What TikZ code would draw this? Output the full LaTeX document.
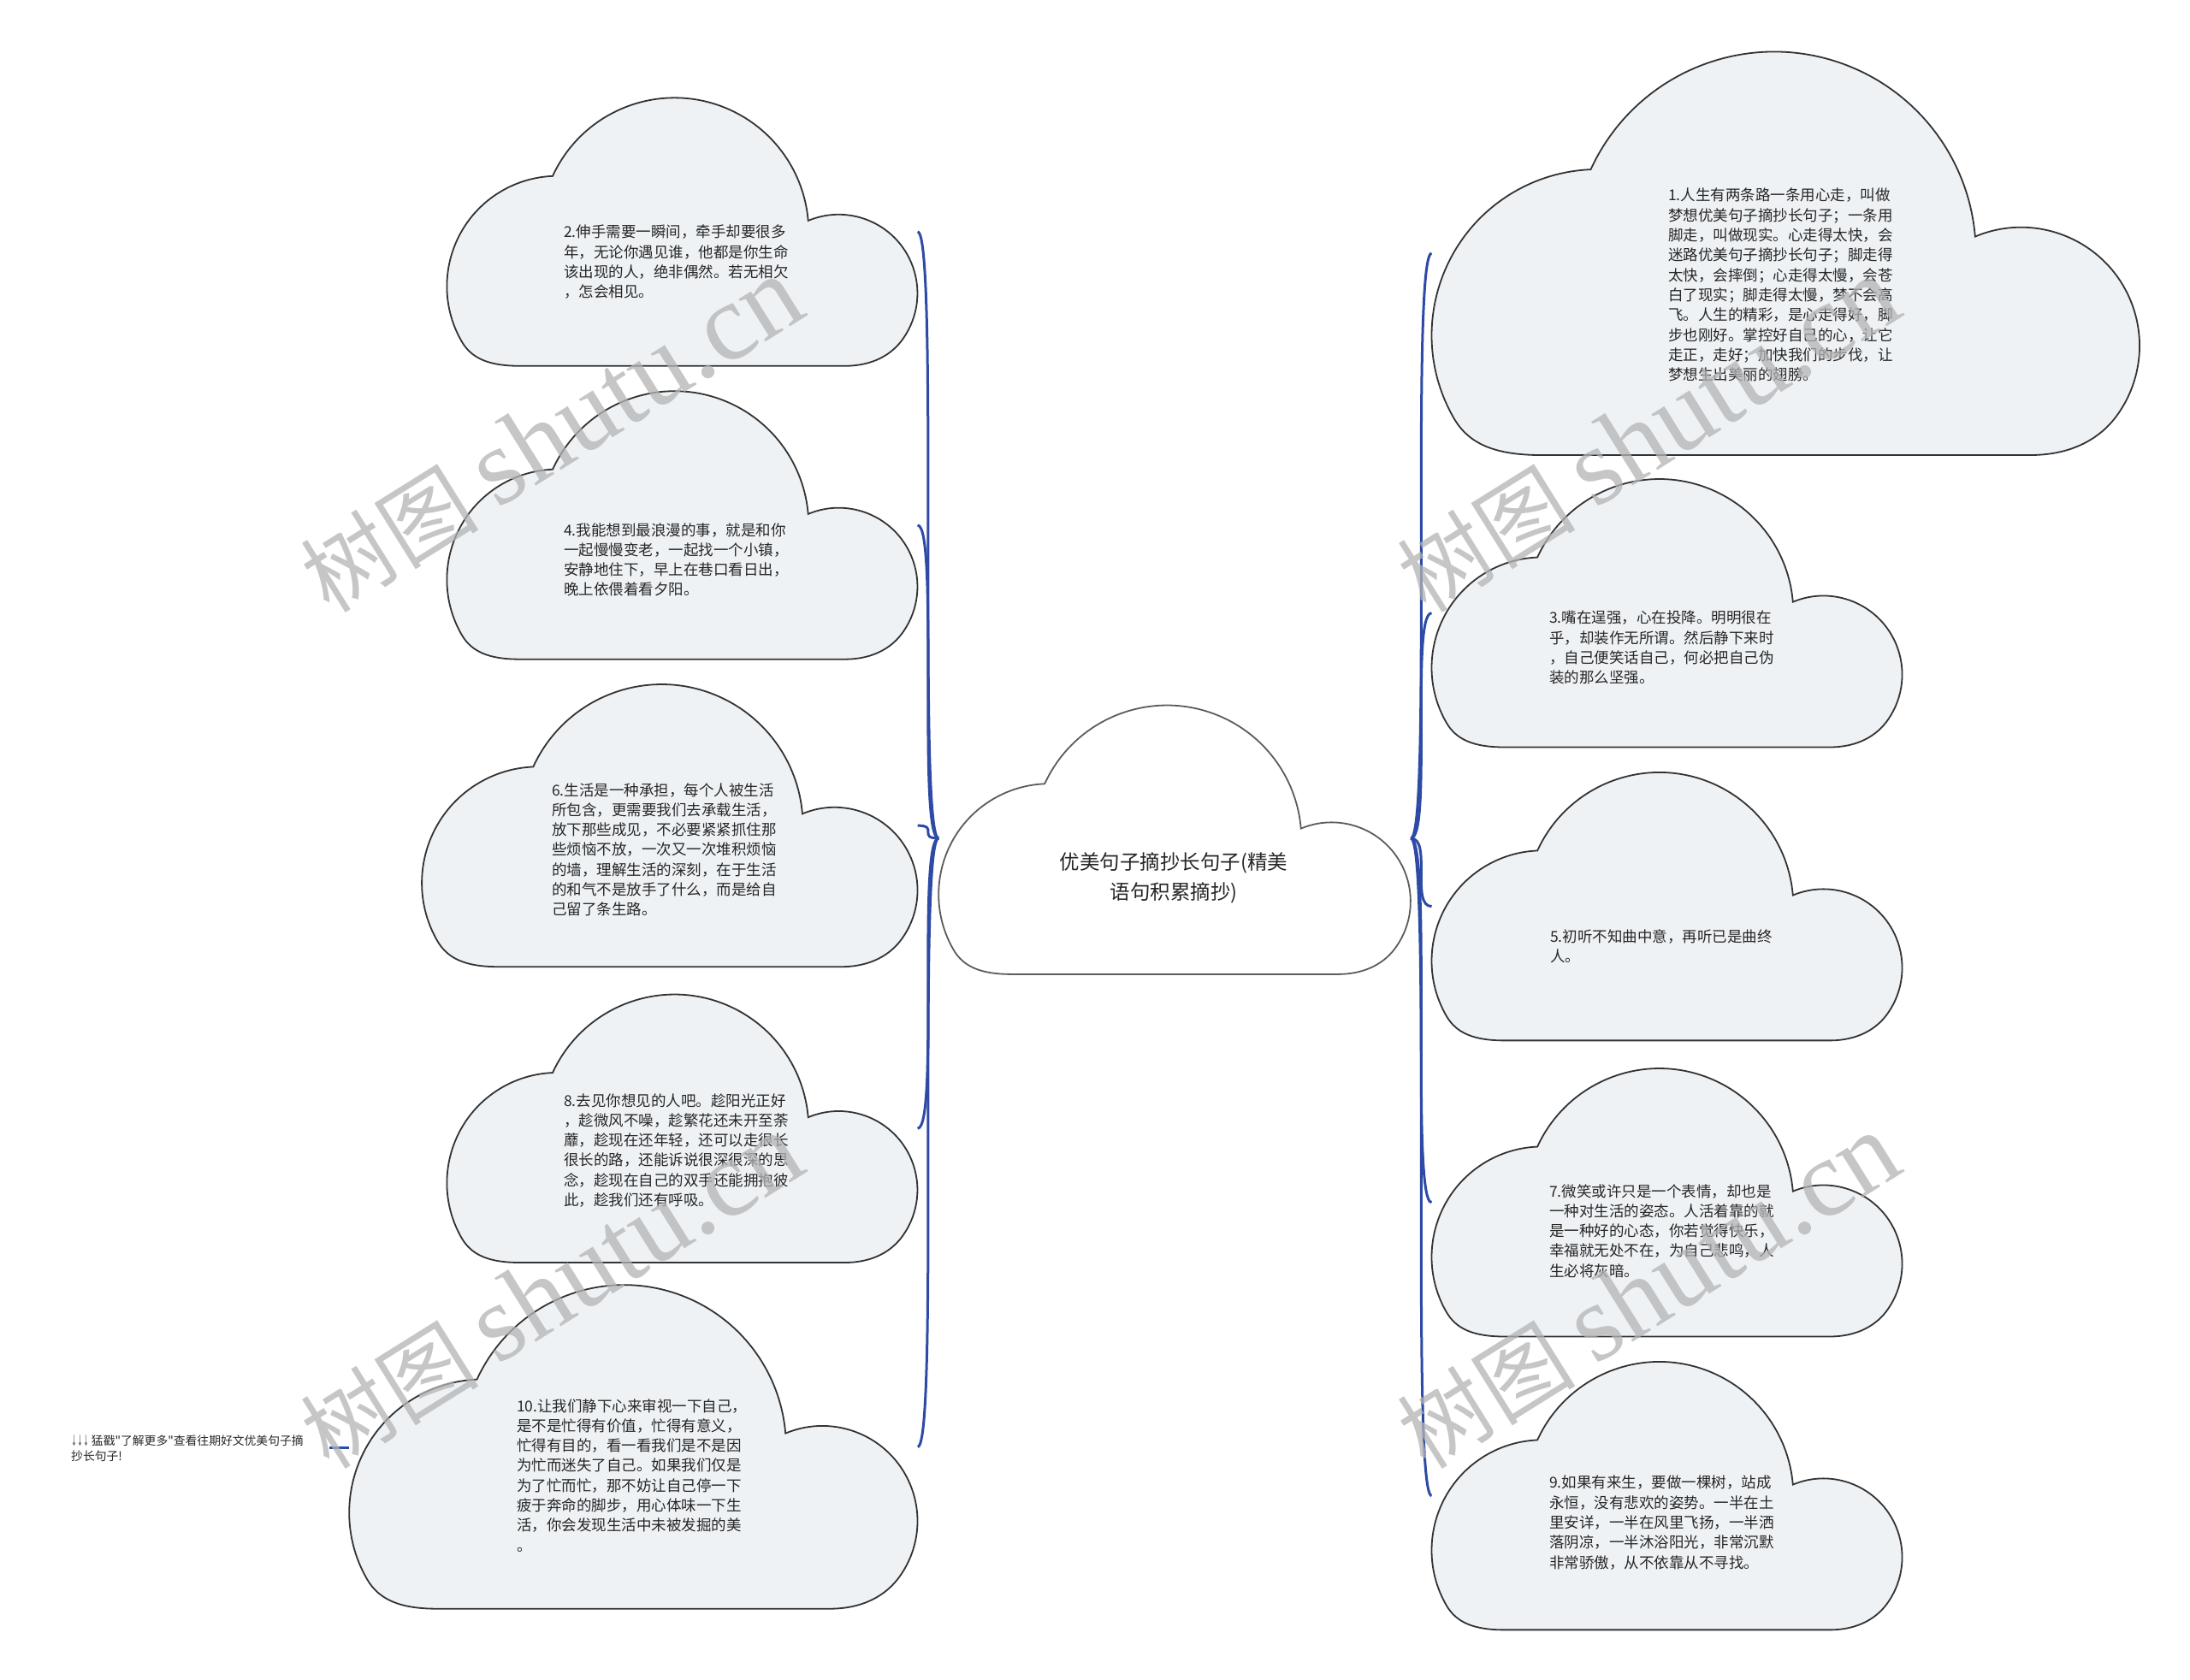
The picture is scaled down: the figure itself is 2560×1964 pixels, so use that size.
\documentclass[tikz,border=0pt]{standalone}
\usepackage{fontspec}
\newfontfamily\cjk{Noto Sans CJK SC}
\newfontfamily\wmlatin{Liberation Serif}
\definecolor{cloudfill}{HTML}{EFF2F5}
\definecolor{cloudline}{HTML}{333333}
\definecolor{connblue}{HTML}{2D4BA5}
\definecolor{wmgray}{HTML}{B4B4B4}
\newcommand\mycloud[4]{%
  \pgfmathsetmacro\clX{#1}\pgfmathsetmacro\clY{#2}\pgfmathsetmacro\clS{#3}%
  \pgfmathsetmacro\clRa{79*\clS}\pgfmathsetmacro\clRb{96*\clS}\pgfmathsetmacro\clRc{56.4*\clS}%
  \path[#4] (\clX+52*\clS,\clY+192*\clS)
    .. controls (\clX+30*\clS,\clY+192*\clS) and (\clX+17.6*\clS,\clY+186.6*\clS) .. (\clX+10.6*\clS,\clY+174.5*\clS)
    arc[start angle=210,end angle=92.4,radius=\clRa pt]
    arc[start angle=155.4,end angle=4.8,radius=\clRb pt]
    arc[start angle=112.8,end angle=-35,radius=\clRc pt]
    .. controls (\clX+318.8*\clS,\clY+183.8*\clS) and (\clX+305*\clS,\clY+192*\clS) .. (\clX+285*\clS,\clY+192*\clS)
    -- cycle;
}
\tikzset{
  cloudbox/.style={fill=cloudfill,draw=cloudline,line width=1.8pt},
  rootbox/.style={fill=white,draw=cloudline!80,line width=1.8pt},
  leaftext/.style={anchor=north west,inner sep=0pt,align=left,font=\cjk\fontsize{17.5}{23.3}\selectfont,text=black!85},
  roottext/.style={inner sep=0pt,align=center,font=\cjk\fontsize{23.5}{35}\selectfont,text=black!85},
  notetext/.style={anchor=north west,inner sep=0pt,align=left,font=\cjk\fontsize{13.8}{17.7}\selectfont,text=black!85},
  conn/.style={draw=connblue,line width=3pt},
  wmark/.style={rotate=32,text=wmgray,opacity=0.75,inner sep=0pt}
}
\newcommand\wmtext{\cjk\fontsize{104}{104}\selectfont 树图 \wmlatin\fontsize{128}{128}\selectfont shutu.cn}
\begin{document}
\begin{tikzpicture}[x=1pt,y=-1pt]
\useasboundingbox (0,0) rectangle (2560,1964);
\fill[white] (0,0) rectangle (2560,1964);
% clouds
\mycloud{1097.2}{824.5}{1.6375}{rootbox}
\mycloud{522.4}{114.3}{1.6327}{cloudbox}
\mycloud{522.4}{457.2}{1.6327}{cloudbox}
\mycloud{493.1}{800.0}{1.7199}{cloudbox}
\mycloud{522.4}{1162.5}{1.6327}{cloudbox}
\mycloud{408.2}{1502.1}{1.9718}{cloudbox}
\mycloud{1673.5}{60.4}{2.4563}{cloudbox}
\mycloud{1673.5}{560.0}{1.6327}{cloudbox}
\mycloud{1673.5}{902.9}{1.6327}{cloudbox}
\mycloud{1673.5}{1249.0}{1.6327}{cloudbox}
\mycloud{1673.5}{1591.9}{1.6327}{cloudbox}
% anchor coordinates
\coordinate (root-w) at (1097.2,980);
\coordinate (root-e) at (1649.1,980);
\coordinate (n2-e) at (1072.6,271.0);
\coordinate (n4-e) at (1072.6,614.0);
\coordinate (n6-e) at (1072.7,965.1);
\coordinate (n8-e) at (1072.6,1319.2);
\coordinate (n10-e) at (1072.7,1691.4);
\coordinate (n10-w) at (408.2,1692);
\coordinate (n1-w) at (1673.5,296.2);
\coordinate (n3-w) at (1673.5,716.7);
\coordinate (n5-w) at (1673.5,1059.6);
\coordinate (n7-w) at (1673.5,1405.7);
\coordinate (n9-w) at (1673.5,1748.6);
\coordinate (note-e) at (385,1692);
% texts
\node[roottext] (root) at (1372,1026) {优美句子摘抄长句子(精美\\语句积累摘抄)};
\node[leaftext] (t1) at (1950,220) {1.人生有两条路一条用心走，叫做\\梦想优美句子摘抄长句子；一条用\\脚走，叫做现实。心走得太快，会\\迷路优美句子摘抄长句子；脚走得\\太快，会摔倒；心走得太慢，会苍\\白了现实；脚走得太慢，梦不会高\\飞。人生的精彩，是心走得好，脚\\步也刚好。掌控好自己的心，让它\\走正，走好；加快我们的步伐，让\\梦想生出美丽的翅膀。};
\node[leaftext] (t2) at (659,263) {2.伸手需要一瞬间，牵手却要很多\\年，无论你遇见谁，他都是你生命\\该出现的人，绝非偶然。若无相欠\\，怎会相见。};
\node[leaftext] (t3) at (1811,714) {3.嘴在逞强，心在投降。明明很在\\乎，却装作无所谓。然后静下来时\\，自己便笑话自己，何必把自己伪\\装的那么坚强。};
\node[leaftext] (t4) at (659,611) {4.我能想到最浪漫的事，就是和你\\一起慢慢变老，一起找一个小镇，\\安静地住下，早上在巷口看日出，\\晚上依偎着看夕阳。};
\node[leaftext] (t5) at (1812,1086) {5.初听不知曲中意，再听已是曲终\\人。};
\node[leaftext] (t6) at (645,915) {6.生活是一种承担，每个人被生活\\所包含，更需要我们去承载生活，\\放下那些成见，不必要紧紧抓住那\\些烦恼不放，一次又一次堆积烦恼\\的墙，理解生活的深刻，在于生活\\的和气不是放手了什么，而是给自\\己留了条生路。};
\node[leaftext] (t7) at (1811,1384) {7.微笑或许只是一个表情，却也是\\一种对生活的姿态。人活着靠的就\\是一种好的心态，你若觉得快乐，\\幸福就无处不在，为自己悲鸣，人\\生必将灰暗。};
\node[leaftext] (t8) at (659,1278) {8.去见你想见的人吧。趁阳光正好\\，趁微风不噪，趁繁花还未开至荼\\蘼，趁现在还年轻，还可以走很长\\很长的路，还能诉说很深很深的思\\念，趁现在自己的双手还能拥抱彼\\此，趁我们还有呼吸。};
\node[leaftext] (t9) at (1811,1725) {9.如果有来生，要做一棵树，站成\\永恒，没有悲欢的姿势。一半在土\\里安详，一半在风里飞扬，一半洒\\落阴凉，一半沐浴阳光，非常沉默\\非常骄傲，从不依靠从不寻找。};
\node[leaftext] (t10) at (604,1635) {10.让我们静下心来审视一下自己，\\是不是忙得有价值，忙得有意义，\\忙得有目的，看一看我们是不是因\\为忙而迷失了自己。如果我们仅是\\为了忙而忙，那不妨让自己停一下\\疲于奔命的脚步，用心体味一下生\\活，你会发现生活中未被发掘的美\\。};
\node[notetext] (note) at (83,1678) {\scalebox{0.5}[1]{↓↓↓} 猛戳"了解更多"查看往期好文优美句子摘\\抄长句子!};
% connectors
\foreach \t in {n2-e,n4-e,n6-e,n8-e,n10-e}{
  \draw[conn] (root-w) .. controls +(-25,0) and +(25,0) .. (\t);
}
\foreach \t in {n1-w,n3-w,n5-w,n7-w,n9-w}{
  \draw[conn] (root-e) .. controls +(25,0) and +(-25,0) .. (\t);
}
\draw[conn] (n10-w) -- (note-e);
% watermarks
\node[wmark] (wm1) at (645,509) {\wmtext};
\node[wmark] (wm2) at (645,1510) {\wmtext};
\node[wmark] (wm3) at (1927,509) {\wmtext};
\node[wmark] (wm4) at (1927,1510) {\wmtext};
\end{tikzpicture}
\end{document}
